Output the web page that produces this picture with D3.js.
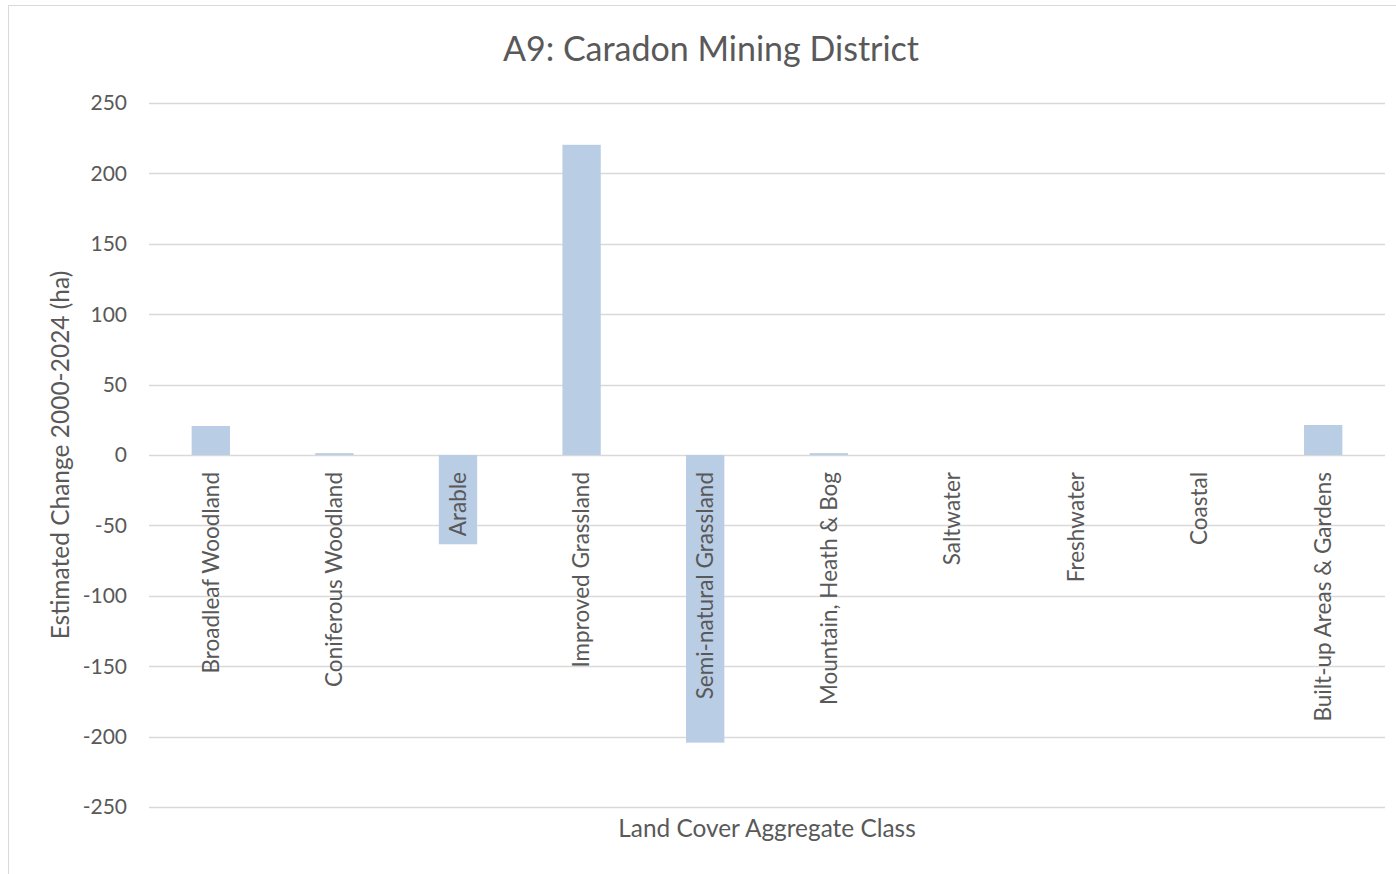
<!DOCTYPE html>
<html>
<head>
<meta charset="utf-8">
<script src="https://cdn.jsdelivr.net/npm/d3@7"></script>
<style>
  body { margin: 0; background: #fff; }
  text { font-family: Lato, "Noto Sans", sans-serif; fill: #595959; }
</style>
</head>
<body>
<script>
// data
var categories = ["Broadleaf Woodland", "Coniferous Woodland", "Arable", "Improved Grassland",
  "Semi-natural Grassland", "Mountain, Heath & Bog", "Saltwater", "Freshwater", "Coastal",
  "Built-up Areas & Gardens"];
var changeHa = [20.6, 1.3, -63.4, 220.3, -204.3, 1.3, 0, 0, 0, 21.3];
var yTicks = [-250, -200, -150, -100, -50, 0, 50, 100, 150, 200, 250];

var W = 1396, H = 874;
var plot = { left: 149, right: 1385, top: 103, bottom: 807 };

var svg = d3.select("body").append("svg")
    .attr("width", W).attr("height", H);

// chart frame
svg.append("rect")
    .attr("x", 8.5).attr("y", 5.5)
    .attr("width", 1420).attr("height", 900)
    .attr("fill", "none").attr("stroke", "#d9d9d9");

var x = d3.scaleBand()
    .domain(categories)
    .range([plot.left, plot.right])
    .paddingInner(0.69).paddingOuter(0.345);

var y = d3.scaleLinear()
    .domain([-250, 250])
    .range([plot.bottom, plot.top]);

// gridlines
svg.append("g").selectAll("line").data(yTicks).enter()
  .append("line")
    .attr("x1", plot.left).attr("x2", plot.right)
    .attr("y1", function (d) { return Math.round(y(d)) + 0.5; })
    .attr("y2", function (d) { return Math.round(y(d)) + 0.5; })
    .attr("stroke", "#d9d9d9").attr("stroke-width", 1.5);

// y tick labels
svg.append("g").selectAll("text").data(yTicks).enter()
  .append("text")
    .attr("x", 127)
    .attr("y", function (d) { return y(d); })
    .attr("dy", "0.35em")
    .attr("text-anchor", "end")
    .style("font-size", "21px")
    .text(function (d) { return d; });

// bars
svg.append("g").selectAll("rect").data(changeHa).enter()
  .append("rect")
    .attr("x", function (d, i) { return x(categories[i]); })
    .attr("width", x.bandwidth())
    .attr("y", function (d) { return y(Math.max(0, d)); })
    .attr("height", function (d) { return Math.abs(y(d) - y(0)); })
    .attr("fill", "#b9cde5");

// category labels, rotated, hanging below the zero line
svg.append("g").selectAll("text").data(categories).enter()
  .append("text")
    .attr("transform", function (d) {
      return "translate(" + (x(d) + x.bandwidth() / 2) + "," + (y(0) + 17) + ") rotate(-90)";
    })
    .attr("dy", "0.35em")
    .attr("text-anchor", "end")
    .style("font-size", "22.5px")
    .text(function (d) { return d; });

// titles
svg.append("text")
    .attr("x", 711).attr("y", 61)
    .attr("text-anchor", "middle")
    .style("font-size", "34px")
    .text("A9: Caradon Mining District");

svg.append("text")
    .attr("x", (plot.left + plot.right) / 2).attr("y", 837)
    .attr("text-anchor", "middle")
    .style("font-size", "24.4px")
    .text("Land Cover Aggregate Class");

svg.append("text")
    .attr("transform", "translate(69," + y(0) + ") rotate(-90)")
    .attr("text-anchor", "middle")
    .style("font-size", "24.5px")
    .text("Estimated Change 2000-2024 (ha)");
</script>
</body>
</html>
